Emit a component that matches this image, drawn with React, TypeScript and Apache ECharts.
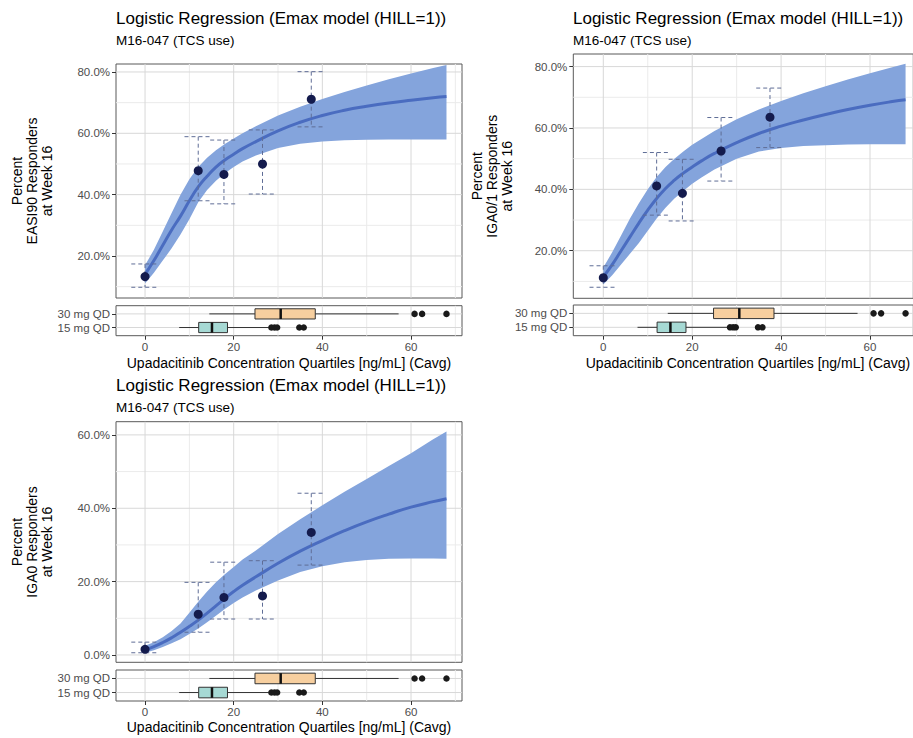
import React, { useEffect, useRef } from "react";
import * as echarts from "echarts";

// ---------- data ----------
const fitConc = [0, 2, 4, 6, 8, 10, 12, 14, 16, 18, 20, 22, 25, 30, 35, 40, 45, 50, 55, 60, 65, 68];

const easi90Fit = [14, 18.5, 23.5, 28.5, 33, 38, 42.5, 46, 49, 51.3, 53.2, 55, 57.3, 60.8, 63.6, 65.8, 67.5, 68.8, 69.9, 70.8, 71.6, 72];
const easi90Hi = [17, 22, 28, 34, 40, 45, 49, 52, 54.5, 56.5, 58.3, 60, 62.3, 65.8, 68.7, 71.2, 73.5, 75.6, 77.6, 79.5, 81.3, 82.3];
const easi90Lo = [11, 14.5, 18.5, 22.5, 27, 32, 37.5, 41.5, 44.5, 47, 49, 50.8, 52.8, 55.2, 56.6, 57.3, 57.7, 57.9, 58, 58, 58, 58];

const iga01Fit = [11.5, 15.5, 20, 24.5, 29, 33.2, 37, 40.3, 43, 45.3, 47.3, 49.2, 51.7, 55.2, 58.2, 60.6, 62.6, 64.4, 66, 67.4, 68.6, 69.2];
const iga01Hi = [14.5, 19.5, 25, 30.5, 35.5, 40, 44, 47.3, 50, 52.3, 54.5, 56.3, 59, 62.8, 66, 68.8, 71.3, 73.6, 75.8, 77.8, 79.8, 80.9];
const iga01Lo = [9, 12, 15.5, 19, 22.5, 26.5, 30.5, 34, 37, 39.5, 41.8, 43.8, 46.5, 50, 52.3, 53.5, 54.1, 54.4, 54.6, 54.7, 54.7, 54.7];

const iga0Fit = [1.4, 2.3, 3.4, 4.7, 6.2, 7.8, 9.5, 11.4, 13.4, 15.4, 17.3, 19, 21.3, 25, 28.3, 31.2, 33.9, 36.3, 38.4, 40.3, 41.8, 42.6];
const iga0Hi = [2.5, 3.5, 4.8, 6.5, 8.6, 11.5, 14.5, 17.3, 19.8, 22, 24, 26, 28.5, 33, 37, 40.8, 44.5, 48, 51.5, 55, 58.8, 60.9];
const iga0Lo = [0.6, 1.3, 2.2, 3.2, 4.3, 5.7, 7.2, 8.9, 10.7, 12.5, 14.2, 15.7, 17.6, 20.3, 22.6, 24.2, 25.3, 25.9, 26.2, 26.3, 26.3, 26.2];

const quartileConc = [0, 12.0, 17.8, 26.5, 37.5];
const easi90Obs = [13.3, 47.8, 46.6, 50.0, 71.1];
const easi90ObsLo = [9.8, 38.0, 37.0, 40.2, 62.1];
const easi90ObsHi = [17.4, 58.9, 57.8, 61.1, 80.1];
const iga01Obs = [11.2, 41.1, 38.7, 52.5, 63.5];
const iga01ObsLo = [8.1, 31.6, 29.7, 42.7, 53.6];
const iga01ObsHi = [15.1, 52.0, 49.8, 63.4, 73.0];
const iga0Obs = [1.55, 11.1, 15.7, 16.1, 33.4];
const iga0ObsLo = [0.6, 6.2, 9.8, 9.8, 24.5];
const iga0ObsHi = [3.5, 19.8, 25.3, 25.7, 44.1];

// boxplot: [min whisker, Q1, median, Q3, max whisker]
const doseLabels = ["15 mg QD", "30 mg QD"];
const dose15Box = [7.7, 12.1, 15.1, 18.6, 27.9];
const dose30Box = [14.5, 24.8, 30.6, 38.4, 57.2];
const dose15Out = [28.5, 29.2, 29.8, 34.8, 35.8];
const dose30Out = [60.8, 62.5, 68.0];

const concTicks = [0, 20, 40, 60];
const concMinor = [10, 30, 50, 70];
const pctTicksHigh = [20, 40, 60, 80];
const pctMinorHigh = [10, 30, 50, 70];
const pctTicksLow = [0, 20, 40, 60];
const pctMinorLow = [10, 30, 50];
const doseRows = [1, 2];

const titleText = "Logistic Regression (Emax model (HILL=1))";
const subtitleText = "M16-047 (TCS use)";
const xTitleText = "Upadacitinib Concentration Quartiles [ng/mL] (Cavg)";

// ---------- styles ----------
const FONT = "'Liberation Sans', Arial, Helvetica, sans-serif";
const BAND = "#84a4dc";
const LINE = "#4a6cc0";
const POINT = "#141b4d";
const ERR = "#5f6d96";
const BORDER = "#595959";
const TICKTXT = "#4d4d4d";
const GRID_MAJ = "#d8d8d8";
const GRID_MIN = "#ebebeb";
const BOX_FILL = ["#a6d9d4", "#f7cf9f"];

type Box = { left: number; top: number; width: number; height: number };
type Panel = {
  fit: number[]; hi: number[]; lo: number[];
  obs: number[]; obsLo: number[]; obsHi: number[];
  yTitle: string; yTicks: number[]; yMinor: number[];
  yMin: number; yMax: number; xMin: number; xMax: number;
  main: Box; box: Box;
  titleX: number; titleY: number; yTitleX: number; xTitleX: number; xTitleY: number;
};

const panels: Panel[] = [
  {
    fit: easi90Fit, hi: easi90Hi, lo: easi90Lo,
    obs: easi90Obs, obsLo: easi90ObsLo, obsHi: easi90ObsHi,
    yTitle: "Percent\nEASI90 Responders\nat Week 16",
    yTicks: pctTicksHigh, yMinor: pctMinorHigh, yMin: 6.3, yMax: 82.6,
    xMin: -6.55, xMax: 71.5,
    main: { left: 116, top: 64, width: 346, height: 234 },
    box: { left: 116, top: 305.7, width: 346, height: 30 },
    titleX: 116, titleY: 18, yTitleX: 31.7, xTitleX: 289, xTitleY: 363,
  },
  {
    fit: iga01Fit, hi: iga01Hi, lo: iga01Lo,
    obs: iga01Obs, obsLo: iga01ObsLo, obsHi: iga01ObsHi,
    yTitle: "Percent\nIGA0/1 Responders\nat Week 16",
    yTicks: pctTicksHigh, yMinor: pctMinorHigh, yMin: 4.5, yMax: 84.1,
    xMin: -6.75, xMax: 69.74,
    main: { left: 573.3, top: 54, width: 340, height: 244.3 },
    box: { left: 573.3, top: 305, width: 340, height: 30.7 },
    titleX: 573, titleY: 18, yTitleX: 491.7, xTitleX: 748, xTitleY: 363,
  },
  {
    fit: iga0Fit, hi: iga0Hi, lo: iga0Lo,
    obs: iga0Obs, obsLo: iga0ObsLo, obsHi: iga0ObsHi,
    yTitle: "Percent\nIGA0 Responders\nat Week 16",
    yTicks: pctTicksLow, yMinor: pctMinorLow, yMin: -2.0, yMax: 63.6,
    xMin: -6.55, xMax: 71.5,
    main: { left: 116, top: 421.7, width: 346, height: 240.6 },
    box: { left: 116, top: 670, width: 346, height: 31 },
    titleX: 116, titleY: 385, yTitleX: 31.7, xTitleX: 289, xTitleY: 726.7,
  },
];

// gridlines as plain line series, one per gridline value
function gridLines(ai: number, xMin: number, xMax: number, yMin: number, yMax: number,
  xVals: number[], yVals: number[], major: boolean) {
  const out: any[] = [];
  const lineStyle = { color: major ? GRID_MAJ : GRID_MIN, width: 1, opacity: 1 };
  xVals.filter((v) => v >= xMin && v <= xMax).forEach((v) => {
    out.push({ type: "line", xAxisIndex: ai, yAxisIndex: ai, z: 1, silent: true, symbol: "none", showSymbol: false,
      data: [[v, yMin], [v, yMax]], lineStyle });
  });
  yVals.filter((v) => v >= yMin && v <= yMax).forEach((v) => {
    out.push({ type: "line", xAxisIndex: ai, yAxisIndex: ai, z: 1, silent: true, symbol: "none", showSymbol: false,
      data: [[xMin, v], [xMax, v]], lineStyle });
  });
  return out;
}

function buildOption() {
  const grid: any[] = [];
  const xAxis: any[] = [];
  const yAxis: any[] = [];
  const series: any[] = [];
  const graphics: any[] = [];

  panels.forEach((p, pi) => {
    const mi = pi * 2;
    const bi = pi * 2 + 1;
    grid.push({ ...p.main, show: true, borderColor: BORDER, borderWidth: 1, backgroundColor: "transparent", containLabel: false, outerBoundsMode: "none" });
    grid.push({ ...p.box, show: true, borderColor: BORDER, borderWidth: 1, backgroundColor: "transparent", containLabel: false, outerBoundsMode: "none" });

    xAxis.push({
      type: "value", gridIndex: mi, min: p.xMin, max: p.xMax,
      axisLine: { show: false, onZero: false }, axisTick: { show: false }, axisLabel: { show: false }, splitLine: { show: false },
    });
    xAxis.push({
      type: "value", gridIndex: bi, min: p.xMin, max: p.xMax,
      axisLine: { show: false, onZero: false },
      axisTick: { show: true, length: 4, customValues: concTicks, lineStyle: { color: "#333", width: 1 } },
      axisLabel: { show: true, customValues: concTicks, color: TICKTXT, fontSize: 11.5, margin: 5, fontFamily: FONT },
      splitLine: { show: false },
    });
    yAxis.push({
      type: "value", gridIndex: mi, min: p.yMin, max: p.yMax,
      axisLine: { show: false, onZero: false },
      axisTick: { show: true, length: 4, customValues: p.yTicks, lineStyle: { color: "#333", width: 1 } },
      axisLabel: { show: true, customValues: p.yTicks, color: TICKTXT, fontSize: 11.5, margin: 6, fontFamily: FONT, formatter: (v: number) => v.toFixed(1) + "%" },
      splitLine: { show: false },
    });
    yAxis.push({
      type: "value", gridIndex: bi, min: 0.4, max: 2.6,
      axisLine: { show: false, onZero: false },
      axisTick: { show: true, length: 4, customValues: doseRows, lineStyle: { color: "#333", width: 1 } },
      axisLabel: { show: true, customValues: doseRows, color: TICKTXT, fontSize: 11.5, margin: 6, fontFamily: FONT, formatter: (v: number) => doseLabels[Math.round(v) - 1] },
      splitLine: { show: false },
    });

    series.push(...gridLines(mi, p.xMin, p.xMax, p.yMin, p.yMax, concMinor, p.yMinor, false));
    series.push(...gridLines(mi, p.xMin, p.xMax, p.yMin, p.yMax, concTicks, p.yTicks, true));
    series.push(...gridLines(bi, p.xMin, p.xMax, 0.4, 2.6, concMinor, [], false));
    series.push(...gridLines(bi, p.xMin, p.xMax, 0.4, 2.6, concTicks, doseRows, true));

    // confidence band
    series.push({
      type: "custom", xAxisIndex: mi, yAxisIndex: mi, z: 2, silent: true,
      data: fitConc.map((c, i) => [c, p.lo[i], p.hi[i]]),
      renderItem: (params: any, api: any) => {
        if (params.dataIndex !== 0) return null;
        const upper = fitConc.map((c, i) => api.coord([c, p.hi[i]]));
        const lower = fitConc.map((c, i) => api.coord([c, p.lo[i]])).reverse();
        return { type: "polygon", shape: { points: upper.concat(lower) }, style: { fill: BAND } };
      },
    });
    // fitted line
    series.push({
      type: "line", xAxisIndex: mi, yAxisIndex: mi, z: 3, silent: true, smooth: true,
      showSymbol: false, symbol: "none",
      data: fitConc.map((c, i) => [c, p.fit[i]]),
      lineStyle: { color: LINE, width: 3 },
    });
    // error bars
    series.push({
      type: "custom", xAxisIndex: mi, yAxisIndex: mi, z: 4, silent: true,
      data: quartileConc.map((c, i) => [c, p.obsLo[i], p.obsHi[i]]),
      renderItem: (params: any, api: any) => {
        const x = api.value(0);
        const lo = api.value(1);
        const hi = api.value(2);
        const top = api.coord([x, hi]);
        const bot = api.coord([x, lo]);
        const capL = api.coord([x - 3.1, hi])[0];
        const capR = api.coord([x + 3.1, hi])[0];
        const style = { stroke: ERR, lineWidth: 1, lineDash: [4, 3] };
        return {
          type: "group",
          children: [
            { type: "line", shape: { x1: top[0], y1: top[1], x2: bot[0], y2: bot[1] }, style },
            { type: "line", shape: { x1: capL, y1: top[1], x2: capR, y2: top[1] }, style },
            { type: "line", shape: { x1: capL, y1: bot[1], x2: capR, y2: bot[1] }, style },
          ],
        };
      },
    });
    // observed points
    series.push({
      type: "scatter", xAxisIndex: mi, yAxisIndex: mi, z: 5, silent: true,
      symbolSize: 9, itemStyle: { color: POINT, opacity: 1 },
      data: quartileConc.map((c, i) => [c, p.obs[i]]),
    });
    // boxplots
    series.push({
      type: "custom", xAxisIndex: bi, yAxisIndex: bi, z: 3, silent: true,
      data: [dose15Box.concat([doseRows[0]]), dose30Box.concat([doseRows[1]])],
      renderItem: (params: any, api: any) => {
        const low = api.value(0), q1 = api.value(1), med = api.value(2), q3 = api.value(3), high = api.value(4), row = api.value(5);
        const pl = api.coord([low, row]);
        const p1 = api.coord([q1, row]);
        const pm = api.coord([med, row]);
        const p3 = api.coord([q3, row]);
        const ph = api.coord([high, row]);
        const top = api.coord([q1, row + 0.375])[1];
        const bottom = api.coord([q1, row - 0.375])[1];
        const wStyle = { stroke: "#333", lineWidth: 1 };
        return {
          type: "group",
          children: [
            { type: "line", shape: { x1: pl[0], y1: pl[1], x2: p1[0], y2: p1[1] }, style: wStyle },
            { type: "line", shape: { x1: p3[0], y1: p3[1], x2: ph[0], y2: ph[1] }, style: wStyle },
            { type: "rect", shape: { x: p1[0], y: top, width: p3[0] - p1[0], height: bottom - top }, style: { fill: BOX_FILL[params.dataIndex], stroke: "#333", lineWidth: 1 } },
            { type: "line", shape: { x1: pm[0], y1: top, x2: pm[0], y2: bottom }, style: { stroke: "#111", lineWidth: 2.5 } },
          ],
        };
      },
    });
    series.push({
      type: "scatter", xAxisIndex: bi, yAxisIndex: bi, z: 4, silent: true,
      symbolSize: 6.5, itemStyle: { color: "#1a1a1a", opacity: 1 },
      data: dose15Out.map((v) => [v, doseRows[0]]).concat(dose30Out.map((v) => [v, doseRows[1]])),
    });

    // texts
    graphics.push({ type: "text", x: p.titleX, y: p.titleY, style: { text: titleText, fontSize: 17, fontFamily: FONT, fill: "#000", align: "left", verticalAlign: "middle" } });
    graphics.push({ type: "text", x: p.titleX, y: p.titleY + 22, style: { text: subtitleText, fontSize: 13.5, fontFamily: FONT, fill: "#000", align: "left", verticalAlign: "middle" } });
    graphics.push({
      type: "text", x: p.yTitleX, y: p.main.top + p.main.height / 2, rotation: Math.PI / 2,
      style: { text: p.yTitle, fontSize: 14, lineHeight: 15, fontFamily: FONT, fill: "#000", align: "center", verticalAlign: "middle" },
    });
    graphics.push({ type: "text", x: p.xTitleX, y: p.xTitleY, style: { text: xTitleText, fontSize: 14, fontFamily: FONT, fill: "#000", align: "center", verticalAlign: "middle" } });
  });

  return {
    animation: false,
    backgroundColor: "#fff",
    textStyle: { fontFamily: FONT },
    grid, xAxis, yAxis, series,
    graphic: { elements: graphics },
  };
}

export default function App() {
  const ref = useRef<HTMLDivElement>(null);
  useEffect(() => {
    if (!ref.current) return;
    const chart = echarts.init(ref.current, null, { renderer: "svg" });
    chart.setOption(buildOption() as any);
    return () => chart.dispose();
  }, []);
  return <div ref={ref} style={{ position: "absolute", left: 0, top: 0, width: 913, height: 738 }} />;
}
